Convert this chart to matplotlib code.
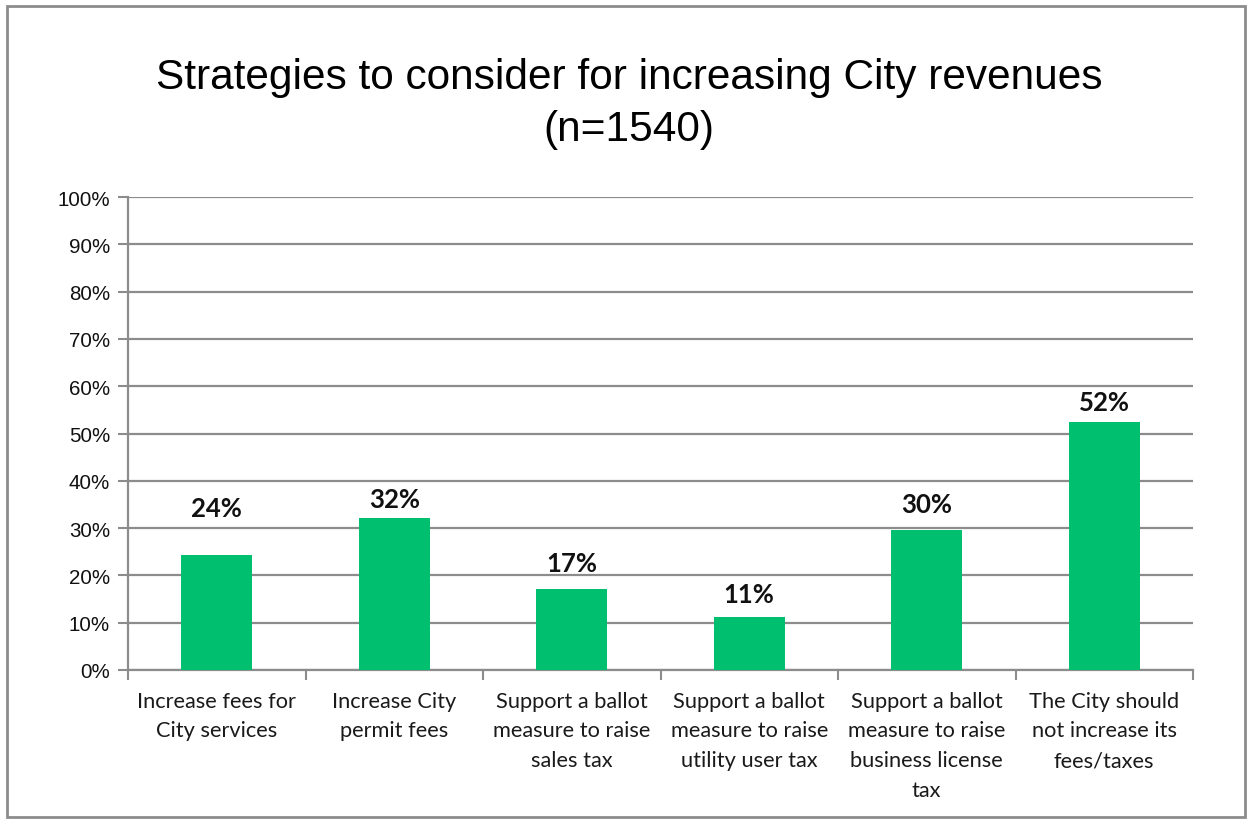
import matplotlib
matplotlib.use('Agg')
import matplotlib.pyplot as plt
from matplotlib.patches import Rectangle
from matplotlib.ticker import FixedLocator, PercentFormatter
import numpy as np

categories = [
    'Increase fees for\nCity services',
    'Increase City\npermit fees',
    'Support a ballot\nmeasure to raise\nsales tax',
    'Support a ballot\nmeasure to raise\nutility user tax',
    'Support a ballot\nmeasure to raise\nbusiness license\ntax',
    'The City should\nnot increase its\nfees/taxes',
]
values = [24.3, 32.2, 17.1, 11.3, 29.6, 52.5]
value_labels = ['24%', '32%', '17%', '11%', '30%', '52%']

bar_color = '#00BF6F'
grid_color = '#8C8C8C'
# the data labels sit at uneven heights above the bars in the original
label_gap = [8.2, 2.3, 3.8, 3.0, 3.8, 2.5]

fig = plt.figure(figsize=(12.51, 8.2), dpi=100)
ax = fig.add_axes([128 / 1251, 1 - 671 / 820, (1193 - 128) / 1251, (671 - 198) / 820])

# outer chart border
fig.patches.append(Rectangle((7 / 1251, 2 / 820), 1238 / 1251, 811 / 820,
                             transform=fig.transFigure, fill=False,
                             edgecolor='#8C8C8C', linewidth=2))

x = np.arange(len(categories))
ax.bar(x, values, width=0.4, color=bar_color, zorder=3)

for i, v in enumerate(values):
    ax.text(i, v + label_gap[i], value_labels[i], ha='center', va='baseline',
            fontsize=18.5, fontweight='bold', family='Lato', color='#111111')

ax.set_xlim(-0.5, len(categories) - 0.5)
ax.set_ylim(0, 100)
ax.yaxis.set_major_locator(FixedLocator(np.arange(0, 101, 10)))
ax.yaxis.set_major_formatter(PercentFormatter(decimals=0))
ax.grid(axis='y', color=grid_color, linewidth=1.6, zorder=0)

ax.set_xticks(x)
ax.set_xticklabels(categories, family='Lato', fontsize=15.7, color='#1a1a1a',
                   linespacing=1.6)
ax.xaxis.set_minor_locator(FixedLocator(np.arange(-0.5, len(categories), 1)))
ax.tick_params(axis='x', which='major', length=0, pad=15)
ax.tick_params(axis='x', which='minor', length=7, width=1.5, color=grid_color)
ax.tick_params(axis='y', length=7, width=1.5, color=grid_color, pad=6,
               labelsize=14.8, labelcolor='#111111')
for lab in ax.get_yticklabels():
    lab.set_family('Liberation Sans')

for side in ['top', 'right']:
    ax.spines[side].set_visible(False)
for side in ['left', 'bottom']:
    ax.spines[side].set_color(grid_color)
    ax.spines[side].set_linewidth(1.6)

fig.text(629 / 1251, 1 - 104 / 820,
         'Strategies to consider for increasing City revenues\n(n=1540)',
         ha='center', va='center', fontsize=30.5, family='Liberation Sans',
         linespacing=1.38)

fig.savefig('out.png', dpi=100)
